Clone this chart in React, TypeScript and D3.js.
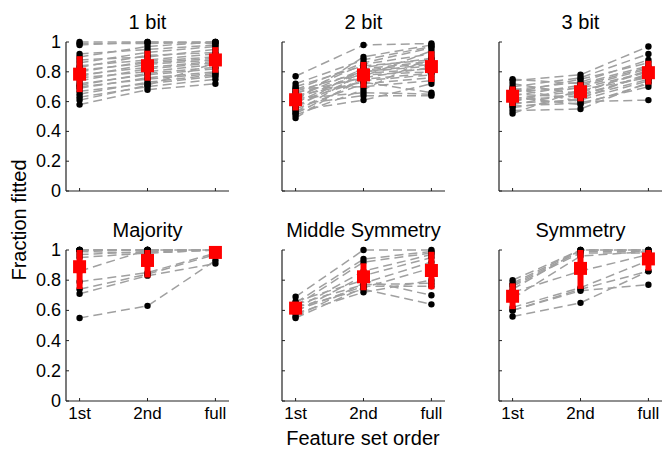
import React from "react";
import * as d3 from "d3";

const orderLabels = ["1st", "2nd", "full"];
const yTicks = [0, 0.2, 0.4, 0.6, 0.8, 1];
const panelTitles = ["1 bit", "2 bit", "3 bit", "Majority", "Middle Symmetry", "Symmetry"];

const bit1First = [1.0, 0.99, 0.98, 0.92, 0.9, 0.88, 0.86, 0.84, 0.83, 0.81, 0.8, 0.78, 0.77, 0.76, 0.74, 0.72, 0.71, 0.7, 0.69, 0.67, 0.65, 0.63, 0.61, 0.58];
const bit1Second = [1.0, 0.99, 1.0, 0.95, 0.97, 0.9, 0.93, 0.88, 0.91, 0.86, 0.87, 0.83, 0.85, 0.8, 0.82, 0.78, 0.79, 0.75, 0.76, 0.72, 0.73, 0.7, 0.71, 0.68];
const bit1Full = [1.0, 1.0, 0.99, 0.98, 1.0, 0.95, 0.97, 0.92, 0.93, 0.89, 0.9, 0.87, 0.88, 0.85, 0.86, 0.82, 0.83, 0.79, 0.8, 0.77, 0.78, 0.75, 0.86, 0.72];

const bit2First = [0.77, 0.72, 0.7, 0.69, 0.68, 0.67, 0.66, 0.65, 0.64, 0.63, 0.62, 0.62, 0.61, 0.6, 0.59, 0.58, 0.57, 0.56, 0.55, 0.54, 0.53, 0.52, 0.51, 0.49];
const bit2Second = [0.98, 0.88, 0.84, 0.7, 0.86, 0.8, 0.76, 0.85, 0.73, 0.82, 0.66, 0.79, 0.9, 0.74, 0.81, 0.64, 0.78, 0.83, 0.72, 0.61, 0.8, 0.75, 0.68, 0.77];
const bit2Full = [0.99, 0.97, 0.88, 0.74, 0.96, 0.85, 0.83, 0.92, 0.66, 0.87, 0.65, 0.82, 0.98, 0.78, 0.86, 0.64, 0.8, 0.89, 0.76, 0.72, 0.84, 0.79, 0.9, 0.94];

const bit3First = [0.75, 0.74, 0.72, 0.7, 0.69, 0.68, 0.67, 0.66, 0.65, 0.64, 0.63, 0.62, 0.61, 0.6, 0.59, 0.58, 0.57, 0.56, 0.54, 0.52];
const bit3Second = [0.72, 0.78, 0.65, 0.76, 0.6, 0.73, 0.69, 0.75, 0.63, 0.71, 0.58, 0.67, 0.64, 0.7, 0.61, 0.66, 0.59, 0.62, 0.55, 0.68];
const bit3Full = [0.84, 0.97, 0.77, 0.92, 0.61, 0.88, 0.8, 0.86, 0.75, 0.83, 0.72, 0.8, 0.78, 0.82, 0.74, 0.81, 0.7, 0.79, 0.73, 0.76];

const majFirst = [1.0, 1.0, 1.0, 1.0, 1.0, 0.99, 0.97, 0.95, 0.86, 0.79, 0.74, 0.71, 0.55];
const majSecond = [1.0, 1.0, 1.0, 1.0, 1.0, 0.98, 0.99, 0.98, 1.0, 0.85, 0.84, 0.83, 0.63];
const majFull = [1.0, 1.0, 1.0, 1.0, 1.0, 1.0, 1.0, 1.0, 1.0, 0.98, 0.97, 0.91, 0.93];

const midFirst = [0.69, 0.66, 0.65, 0.64, 0.63, 0.62, 0.61, 0.6, 0.59, 0.58, 0.56, 0.55];
const midSecond = [1.0, 0.8, 0.94, 0.77, 0.92, 0.74, 0.86, 0.76, 0.83, 0.72, 0.78, 0.75];
const midFull = [1.0, 0.7, 0.99, 0.78, 0.98, 0.64, 0.97, 0.76, 0.95, 0.8, 0.92, 0.88];

const symFirst = [0.8, 0.78, 0.77, 0.76, 0.74, 0.72, 0.68, 0.62, 0.6, 0.6, 0.56];
const symSecond = [1.0, 1.0, 0.99, 0.98, 1.0, 0.86, 0.96, 0.75, 0.74, 0.73, 0.65];
const symFull = [1.0, 1.0, 0.99, 0.98, 1.0, 0.97, 0.99, 0.93, 0.86, 0.77, 0.86];

const panelData = [
  [bit1First, bit1Second, bit1Full],
  [bit2First, bit2Second, bit2Full],
  [bit3First, bit3Second, bit3Full],
  [majFirst, majSecond, majFull],
  [midFirst, midSecond, midFull],
  [symFirst, symSecond, symFull],
];

const W = 663;
const H = 450;
const colLeft = [66, 282, 499];
const colWidth = 163;
const rowTop = [42, 250];
const rowBottom = [191, 401];
const FONT = "'Liberation Sans', Arial, Helvetica, sans-serif";

function Panel({ idx }: { idx: number }) {
  const col = idx % 3;
  const row = Math.floor(idx / 3);
  const x0 = colLeft[col];
  const x = d3.scaleLinear().domain([0.8, 3.2]).range([x0, x0 + colWidth]);
  const y = d3.scaleLinear().domain([0, 1]).range([rowBottom[row], rowTop[row]]);
  const cols = panelData[idx];
  const n = cols[0].length;
  const subjects = d3.range(n).map((i) => cols.map((c) => c[i]));
  const line = d3
    .line<number>()
    .x((_, j) => x(j + 1))
    .y((v) => y(v));
  const stats = cols.map((c) => ({ m: d3.mean(c) as number, s: d3.deviation(c) as number }));
  return (
    <g>
      <text
        x={x(2)}
        y={rowTop[row] - 13}
        textAnchor="middle"
        fontSize={20}
        fontFamily={FONT}
        fill="#000"
      >
        {panelTitles[idx]}
      </text>
      <line x1={x0} x2={x0} y1={y(1)} y2={y(0)} stroke="#222" strokeWidth={1.2} />
      <line x1={x0} x2={x0 + colWidth} y1={y(0)} y2={y(0)} stroke="#222" strokeWidth={1.2} />
      {yTicks.map((t) => (
        <g key={t}>
          <line x1={x0} x2={x0 + 3} y1={y(t)} y2={y(t)} stroke="#222" strokeWidth={1} />
          {col === 0 && (
            <text
              x={x0 - 5}
              y={y(t) + 6}
              textAnchor="end"
              fontSize={18}
              fontFamily={FONT}
              fill="#000"
            >
              {String(t)}
            </text>
          )}
        </g>
      ))}
      {orderLabels.map((lab, j) => (
        <g key={lab}>
          <line x1={x(j + 1)} x2={x(j + 1)} y1={y(0)} y2={y(0) - 3} stroke="#222" strokeWidth={1} />
          {row === 1 && (
            <text
              x={x(j + 1)}
              y={y(0) + 18}
              textAnchor="middle"
              fontSize={17}
              fontFamily={FONT}
              fill="#000"
            >
              {lab}
            </text>
          )}
        </g>
      ))}
      {subjects.map((s, i) => (
        <path
          key={"l" + i}
          d={line(s) || ""}
          fill="none"
          stroke="#a0a0a0"
          strokeWidth={1.5}
          strokeDasharray="9,5"
        />
      ))}
      {subjects.map((s, i) =>
        s.map((v, j) => <circle key={"c" + i + "-" + j} cx={x(j + 1)} cy={y(v)} r={3.2} fill="#000" />)
      )}
      {stats.map((st, j) => (
        <g key={"m" + j}>
          <rect
            x={x(j + 1) - 3}
            y={y(Math.min(1, st.m + st.s))}
            width={6}
            height={y(st.m - st.s) - y(Math.min(1, st.m + st.s))}
            fill="#ff0000"
          />
          <rect x={x(j + 1) - 6.5} y={y(st.m) - 6.5} width={13} height={13} fill="#ff0000" />
        </g>
      ))}
    </g>
  );
}

export default function App() {
  return (
    <svg
      width={W}
      height={H}
      style={{ position: "absolute", left: 0, top: 0, background: "#fff" }}
    >
      <rect width={W} height={H} fill="#fff" />
      {panelData.map((_, i) => (
        <Panel key={i} idx={i} />
      ))}
      <text
        transform={`translate(26, 220) rotate(-90)`}
        textAnchor="middle"
        fontSize={20}
        fontFamily={FONT}
        fill="#000"
      >
        Fraction fitted
      </text>
      <text x={363} y={445} textAnchor="middle" fontSize={20} fontFamily={FONT} fill="#000">
        Feature set order
      </text>
    </svg>
  );
}
